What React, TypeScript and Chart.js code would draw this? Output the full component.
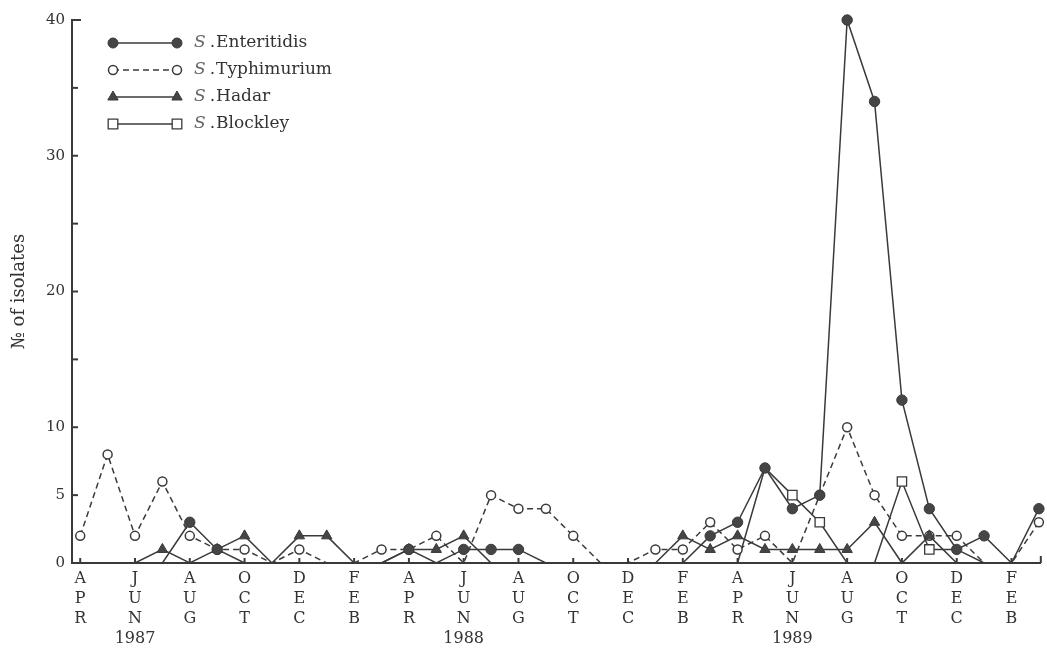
import React, { useEffect, useRef } from 'react';
import { Chart, registerables } from 'chart.js';

Chart.register(...registerables);

// Months from APR 1987 to MAR 1990 (x index 0..35)
const months = [
  'APR', 'MAY', 'JUN', 'JUL', 'AUG', 'SEP', 'OCT', 'NOV', 'DEC', 'JAN', 'FEB', 'MAR',
  'APR', 'MAY', 'JUN', 'JUL', 'AUG', 'SEP', 'OCT', 'NOV', 'DEC', 'JAN', 'FEB', 'MAR',
  'APR', 'MAY', 'JUN', 'JUL', 'AUG', 'SEP', 'OCT', 'NOV', 'DEC', 'JAN', 'FEB', 'MAR',
];

const enteritidis = [
  0, 0, 0, 0, 3, 1, 0, 0, 0, 0, 0, 0,
  1, 0, 1, 1, 1, 0, 0, 0, 0, 0, 0, 2,
  3, 7, 4, 5, 40, 34, 12, 4, 1, 2, 0, 4,
];
const typhimurium = [
  2, 8, 2, 6, 2, 1, 1, 0, 1, 0, 0, 1,
  1, 2, 0, 5, 4, 4, 2, 0, 0, 1, 1, 3,
  1, 2, 0, 5, 10, 5, 2, 2, 2, 0, 0, 3,
];
const hadar = [
  0, 0, 0, 1, 0, 1, 2, 0, 2, 2, 0, 0,
  1, 1, 2, 0, 0, 0, 0, 0, 0, 0, 2, 1,
  2, 1, 1, 1, 1, 3, 0, 2, 0, 0, 0, 0,
];
const blockley = [
  0, 0, 0, 0, 0, 0, 0, 0, 0, 0, 0, 0,
  0, 0, 0, 0, 0, 0, 0, 0, 0, 0, 0, 0,
  0, 7, 5, 3, 0, 0, 6, 1, 1, 0, 0, 0,
];

const seriesNames = ['Enteritidis', 'Typhimurium', 'Hadar', 'Blockley'];

// x tick positions (every second month) and year labels
const xTickMonths = [0, 2, 4, 6, 8, 10, 12, 14, 16, 18, 20, 22, 24, 26, 28, 30, 32, 34];
const yearLabels: Record<number, string> = { 2: '1987', 14: '1988', 26: '1989' };

const yTickValues = [0, 5, 10, 15, 20, 25, 30, 35, 40];
const yTickLabels = [0, 5, 10, 20, 30, 40];

const INK = '#3a3a3a';
const FONT = "'DejaVu Serif', serif";

function toPoints(arr: number[]) {
  return arr.map((v, i) => ({ x: i, y: v }));
}
// zero values carry no marker; markers covered by an Enteritidis dot at the same value are hidden too
function radii(arr: number[], r: number, coveredBy?: number[]) {
  return arr.map((v, i) => (v === 0 || (coveredBy && coveredBy[i] === v) ? 0 : r));
}

function drawMarker(ctx: CanvasRenderingContext2D, style: string, x: number, y: number, r: number, fill: string, stroke: string, lw: number) {
  ctx.save();
  ctx.beginPath();
  if (style === 'circle') {
    ctx.arc(x, y, r, 0, Math.PI * 2);
  } else if (style === 'triangle') {
    ctx.moveTo(x, y - r);
    ctx.lineTo(x + Math.sin((2 * Math.PI) / 3) * r, y - Math.cos((2 * Math.PI) / 3) * r);
    ctx.lineTo(x + Math.sin((4 * Math.PI) / 3) * r, y - Math.cos((4 * Math.PI) / 3) * r);
    ctx.closePath();
  } else {
    const s = Math.SQRT1_2 * r;
    ctx.rect(x - s, y - s, 2 * s, 2 * s);
  }
  ctx.fillStyle = fill;
  ctx.fill();
  ctx.lineWidth = lw;
  ctx.strokeStyle = stroke;
  ctx.setLineDash([]);
  ctx.stroke();
  ctx.restore();
}

const decorPlugin = {
  id: 'decor',
  afterDraw(chart: any) {
    const { ctx, chartArea, scales } = chart;
    const xs = scales.x;
    const ys = scales.y;
    ctx.save();
    ctx.strokeStyle = INK;
    ctx.lineWidth = 2;
    ctx.setLineDash([]);
    // inward ticks on y axis
    yTickValues.forEach((v) => {
      const py = ys.getPixelForValue(v);
      const len = v === 40 ? 9 : 6;
      ctx.beginPath();
      ctx.moveTo(chartArea.left, py);
      ctx.lineTo(chartArea.left + len, py);
      ctx.stroke();
    });
    // inward ticks on x axis
    xTickMonths.forEach((m) => {
      const px = xs.getPixelForValue(m);
      ctx.beginPath();
      ctx.moveTo(px, chartArea.bottom);
      ctx.lineTo(px, chartArea.bottom - 5);
      ctx.stroke();
    });
    ctx.beginPath();
    ctx.moveTo(chartArea.right, chartArea.bottom);
    ctx.lineTo(chartArea.right, chartArea.bottom - 7);
    ctx.stroke();

    // legend
    const x1 = 113;
    const x2 = 177;
    const textX = 194;
    chart.data.datasets.forEach((ds: any, i: number) => {
      const y = 43 + i * 27;
      ctx.save();
      ctx.strokeStyle = ds.borderColor;
      ctx.lineWidth = ds.borderWidth;
      ctx.setLineDash(ds.borderDash || []);
      ctx.beginPath();
      ctx.moveTo(x1, y);
      ctx.lineTo(x2, y);
      ctx.stroke();
      ctx.restore();
      const r = ds.legendRadius;
      drawMarker(ctx, ds.pointStyle, x1, y, r, ds.pointBackgroundColor, ds.pointBorderColor, ds.pointBorderWidth);
      drawMarker(ctx, ds.pointStyle, x2, y, r, ds.pointBackgroundColor, ds.pointBorderColor, ds.pointBorderWidth);
      ctx.textBaseline = 'middle';
      ctx.textAlign = 'left';
      ctx.font = `italic 17px ${FONT}`;
      ctx.fillStyle = '#666';
      ctx.fillText('S', textX, y);
      let tx = textX + ctx.measureText('S').width + 4;
      ctx.font = `17px ${FONT}`;
      ctx.fillStyle = '#333';
      ctx.fillText('.', tx, y);
      tx += ctx.measureText('.').width + 1;
      ctx.fillText(seriesNames[i], tx, y);
    });
    ctx.restore();
  },
};

export default function App() {
  const ref = useRef<HTMLCanvasElement | null>(null);
  useEffect(() => {
    if (!ref.current) return;
    const common = {
      borderColor: INK,
      borderWidth: 1.5,
      pointBorderColor: INK,
      tension: 0,
      clip: false as any,
    };
    const chart = new Chart(ref.current, {
      type: 'line',
      data: {
        datasets: [
          {
            ...common,
            label: 'S.' + seriesNames[0],
            data: toPoints(enteritidis),
            pointStyle: 'circle',
            pointRadius: radii(enteritidis, 5.2),
            pointBackgroundColor: '#454545',
            pointBorderWidth: 1,
            legendRadius: 5,
            order: 0,
          } as any,
          {
            ...common,
            label: 'S.' + seriesNames[1],
            data: toPoints(typhimurium),
            borderDash: [6, 4],
            pointStyle: 'circle',
            pointRadius: radii(typhimurium, 4.5),
            pointBackgroundColor: '#ffffff',
            pointBorderWidth: 1.5,
            legendRadius: 4.5,
            order: 2,
          } as any,
          {
            ...common,
            label: 'S.' + seriesNames[2],
            data: toPoints(hadar),
            pointStyle: 'triangle',
            pointRadius: radii(hadar, 6),
            pointBackgroundColor: '#454545',
            pointBorderWidth: 1,
            legendRadius: 6,
            order: 1,
          } as any,
          {
            ...common,
            label: 'S.' + seriesNames[3],
            data: toPoints(blockley),
            pointStyle: 'rect',
            pointRadius: radii(blockley, 6.6, enteritidis),
            pointBackgroundColor: '#ffffff',
            pointBorderWidth: 1.3,
            legendRadius: 6.8,
            order: 3,
          } as any,
        ],
      },
      options: {
        animation: false,
        responsive: false,
        devicePixelRatio: 1,
        events: [],
        layout: { padding: { left: 0, right: 5, top: 20, bottom: 0 } },
        plugins: {
          legend: { display: false },
          tooltip: { enabled: false },
        },
        scales: {
          x: {
            type: 'linear',
            min: -0.3,
            max: 35.07,
            grid: { drawOnChartArea: false, drawTicks: false },
            border: { display: true, color: INK, width: 2 },
            afterBuildTicks: (scale: any) => {
              scale.ticks = xTickMonths.map((v) => ({ value: v }));
            },
            afterFit: (scale: any) => {
              scale.height = 92;
            },
            ticks: {
              autoSkip: false,
              maxRotation: 0,
              minRotation: 0,
              padding: 6,
              color: '#333',
              font: { family: FONT, size: 16, lineHeight: 1.25 },
              callback: (value: any) => {
                const m = Number(value);
                const letters = months[m].split('');
                if (yearLabels[m]) letters.push(yearLabels[m]);
                return letters;
              },
            },
          },
          y: {
            type: 'linear',
            min: 0,
            max: 40,
            grid: { drawOnChartArea: false, drawTicks: false },
            border: { display: true, color: INK, width: 2 },
            afterBuildTicks: (scale: any) => {
              scale.ticks = yTickValues.map((v) => ({ value: v }));
            },
            afterFit: (scale: any) => {
              scale.width = 72;
            },
            title: {
              display: true,
              text: '№ of isolates',
              color: '#333',
              font: { family: FONT, size: 18 },
              padding: { top: 9, bottom: 0 },
            },
            ticks: {
              padding: 7,
              color: '#333',
              font: { family: FONT, size: 15 },
              callback: (value: any) => (yTickLabels.includes(Number(value)) ? String(value) : ''),
            },
          },
        },
      },
      plugins: [decorPlugin],
    });
    return () => chart.destroy();
  }, []);

  return (
    <div style={{ position: 'absolute', left: 0, top: 0, width: 1047, height: 655, background: '#fff' }}>
      <canvas ref={ref} width={1047} height={655} style={{ width: 1047, height: 655, display: 'block' }} />
    </div>
  );
}
